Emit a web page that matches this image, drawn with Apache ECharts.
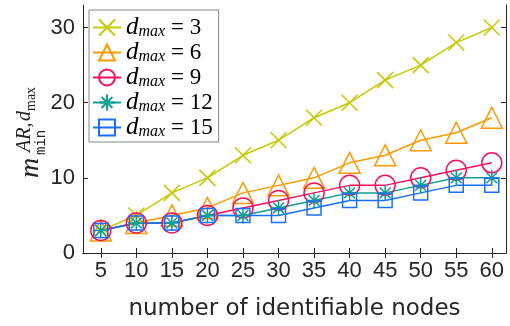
<!DOCTYPE html>
<html>
<head>
<meta charset="utf-8">
<script src="https://cdn.jsdelivr.net/npm/echarts@6/dist/echarts.min.js"></script>
<style>
  html, body { margin: 0; padding: 0; background: #fff; }
</style>
</head>
<body>
<div id="myChart" style="width: 510px; height: 326px;"></div>
<script>
  // x: number of identifiable nodes
  let nodes = [5, 10, 15, 20, 25, 30, 35, 40, 45, 50, 55, 60];
  let yTicks = [0, 10, 20, 30];
  let dmaxValues = [3, 6, 9, 12, 15];
  let d3 = [3, 5, 8, 10, 13, 15, 18, 20, 23, 25, 28, 30];
  let d6 = [3, 4, 5, 6, 8, 9, 10, 12, 13, 15, 16, 18];
  let d9 = [3, 4, 4, 5, 6, 7, 8, 9, 9, 10, 11, 12];
  let d12 = [3, 4, 4, 5, 5, 6, 7, 8, 8, 9, 10, 10];
  let d15 = [3, 4, 4, 5, 5, 5, 6, 7, 7, 8, 9, 9];

  let colors = ['#c8c800', '#ff9900', '#f5115c', '#0d9e96', '#1a6ff5'];
  let symbols = [
    'path://M0,0L10,10M10,0L0,10',
    'triangle',
    'circle',
    'path://M5,0L5,10M0,5L10,5M1.6,1.6L8.4,8.4M8.4,1.6L1.6,8.4',
    'rect'
  ];
  let sizes = [16, 21, 20, 16, 14];
  let allData = [d3, d6, d9, d12, d15];

  let axisColor = '#262626';
  let tickFont = 'Liberation Sans, Arial, sans-serif';
  let serif = 'Liberation Serif, serif';

  let myChart = echarts.init(document.getElementById('myChart'));

  let series = allData.map(function (vals, i) {
    return {
      name: 'd' + dmaxValues[i],
      type: 'line',
      data: vals.map(function (v, j) { return [nodes[j], v]; }),
      symbol: symbols[i],
      symbolSize: sizes[i],
      showAllSymbol: true,
      lineStyle: { color: colors[i], width: 1.5 },
      itemStyle: { color: 'rgba(0,0,0,0)', borderColor: colors[i], borderWidth: 1.5 },
      emphasis: { disabled: true },
      animation: false
    };
  });

  let baseX = {
    type: 'value',
    min: 2.5,
    max: 62,
    splitLine: { show: false },
    axisLine: { show: true, lineStyle: { color: axisColor, width: 1 } },
    axisTick: { show: true, inside: true, length: 5, customValues: nodes, lineStyle: { color: axisColor } }
  };
  let baseY = {
    type: 'value',
    min: 0,
    max: 33,
    splitLine: { show: false },
    axisLine: { show: true, lineStyle: { color: axisColor, width: 1 } },
    axisTick: { show: true, inside: true, length: 5, customValues: yTicks, lineStyle: { color: axisColor } }
  };

  let options = {
    animation: false,
    grid: { left: 83, right: 4, top: 5, bottom: 72, containLabel: false },
    xAxis: [
      Object.assign({}, baseX, {
        position: 'bottom',
        axisLabel: { customValues: nodes, fontSize: 22, color: axisColor, fontFamily: tickFont, margin: 7 },
        name: 'number of identifiable nodes',
        nameLocation: 'middle',
        nameGap: 45,
        nameTextStyle: { fontSize: 23, color: axisColor, fontFamily: 'DejaVu Sans, sans-serif' }
      }),
      Object.assign({}, baseX, { position: 'top', axisLabel: { show: false } })
    ],
    yAxis: [
      Object.assign({}, baseY, {
        position: 'left',
        axisLabel: { customValues: yTicks, fontSize: 22, color: axisColor, fontFamily: tickFont, margin: 8 }
      }),
      Object.assign({}, baseY, { position: 'right', axisLabel: { show: false } })
    ],
    legend: {
      orient: 'vertical',
      left: 89,
      top: 10,
      padding: [5, 6, 2, 3],
      itemGap: 0,
      itemWidth: 28,
      itemHeight: 20,
      backgroundColor: '#fff',
      borderColor: '#888',
      borderWidth: 1,
      borderRadius: 0,
      data: series.map(function (s) { return s.name; }),
      formatter: function (name) {
        return '{d|d}{s|max}{e| = ' + name.slice(1) + '}';
      },
      textStyle: {
        color: '#000',
        rich: {
          d: { fontFamily: serif, fontStyle: 'italic', fontSize: 25, lineHeight: 20 },
          s: { fontFamily: serif, fontStyle: 'italic', fontSize: 16, lineHeight: 11, padding: [9, 0, 0, 0] },
          e: { fontFamily: serif, fontSize: 23, lineHeight: 20 }
        }
      }
    },
    // y axis title  m_min^{AR,d_max}, rotated
    graphic: [{
      type: 'group',
      x: 39,
      y: 178,
      rotation: Math.PI / 2,
      children: [
        { type: 'text', x: 0, y: 6, style: { text: 'm', fontFamily: serif, fontStyle: 'italic', fontSize: 28, fill: '#222', verticalAlign: 'bottom' } },
        { type: 'text', x: 23, y: 9.5, style: { text: 'min', fontFamily: 'Liberation Mono, monospace', fontSize: 14, fill: '#222', verticalAlign: 'bottom' } },
        { type: 'text', x: 26, y: -4, style: { text: 'AR,', fontFamily: serif, fontStyle: 'italic', fontSize: 20, fill: '#222', verticalAlign: 'bottom' } },
        { type: 'text', x: 57, y: -4, style: { text: 'd', fontFamily: serif, fontStyle: 'italic', fontSize: 20, fill: '#222', verticalAlign: 'bottom' } },
        { type: 'text', x: 67, y: -1, style: { text: 'max', fontFamily: serif, fontSize: 14, fill: '#222', verticalAlign: 'bottom' } }
      ]
    }],
    series: series
  };
  myChart.setOption(options);
</script>
</body>
</html>
